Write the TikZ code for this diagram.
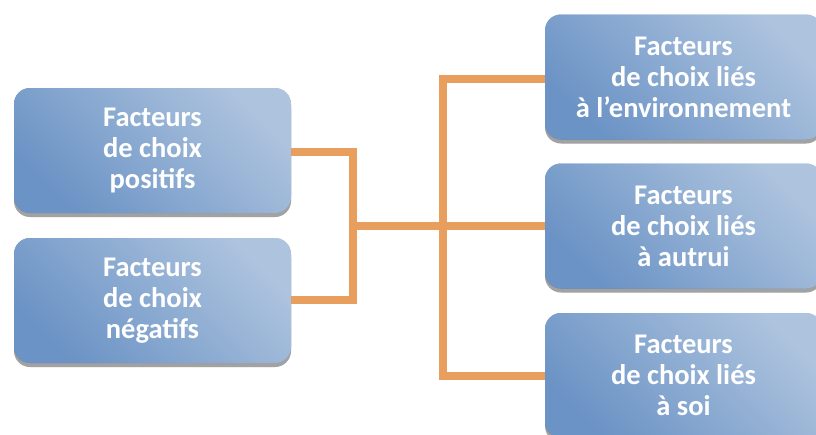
\documentclass[tikz,border=0pt]{standalone}
\usepackage{fontspec}
\newfontfamily\boxfont{Carlito}
\usetikzlibrary{shadows,calc}
\definecolor{boxdark}{HTML}{6B93C5}
\definecolor{boxlight}{HTML}{ADC3DE}
\definecolor{linkorange}{HTML}{E89E5C}
\tikzset{
  factbox/.style={rectangle, rounded corners=16pt, minimum width=277pt, minimum height=125pt,
    inner sep=0pt, align=center, text=white,
    font=\boxfont\bfseries\fontsize{28.5}{31}\selectfont,
    top color=boxlight, bottom color=boxdark, shading angle=-45,
    drop shadow={shadow xshift=0pt, shadow yshift=-4pt, opacity=0.3, fill=black!70}},
  link/.style={draw=linkorange, line width=8pt, line join=miter}
}
\begin{document}
\begin{tikzpicture}[x=1pt,y=-1pt]
\useasboundingbox (0,0) rectangle (816,434);
\fill[white] (0,0) rectangle (816,434);
% nodes
\node[factbox] (pos) at (152.5,150.5) {Facteurs\\de choix\\positifs};
\node[factbox] (neg) at (152.5,300.5) {Facteurs\\de choix\\négatifs};
\node[factbox] (env) at (683.5,77) {Facteurs\\de choix liés\\à l’environnement};
\node[factbox] (aut) at (683.5,226) {Facteurs\\de choix liés\\à autrui};
\node[factbox] (soi) at (683.5,375.5) {Facteurs\\de choix liés\\à soi};
% junction coordinates
\coordinate (lj) at (353,226);
\coordinate (rj) at (443,226);
% connectors
\draw[link] ($(pos.east)+(-6,1.5)$) -| (lj) |- ($(neg.east)+(-6,-0.5)$);
\draw[link] (lj) -- ($(aut.west)+(6,0)$);
\draw[link] ($(env.west)+(6,2)$) -| (rj) |- ($(soi.west)+(6,0.5)$);
% redraw boxes over connector ends
\node[factbox] at (pos) {Facteurs\\de choix\\positifs};
\node[factbox] at (neg) {Facteurs\\de choix\\négatifs};
\node[factbox] at (env) {Facteurs\\de choix liés\\à l’environnement};
\node[factbox] at (aut) {Facteurs\\de choix liés\\à autrui};
\node[factbox] at (soi) {Facteurs\\de choix liés\\à soi};
\end{tikzpicture}
\end{document}
